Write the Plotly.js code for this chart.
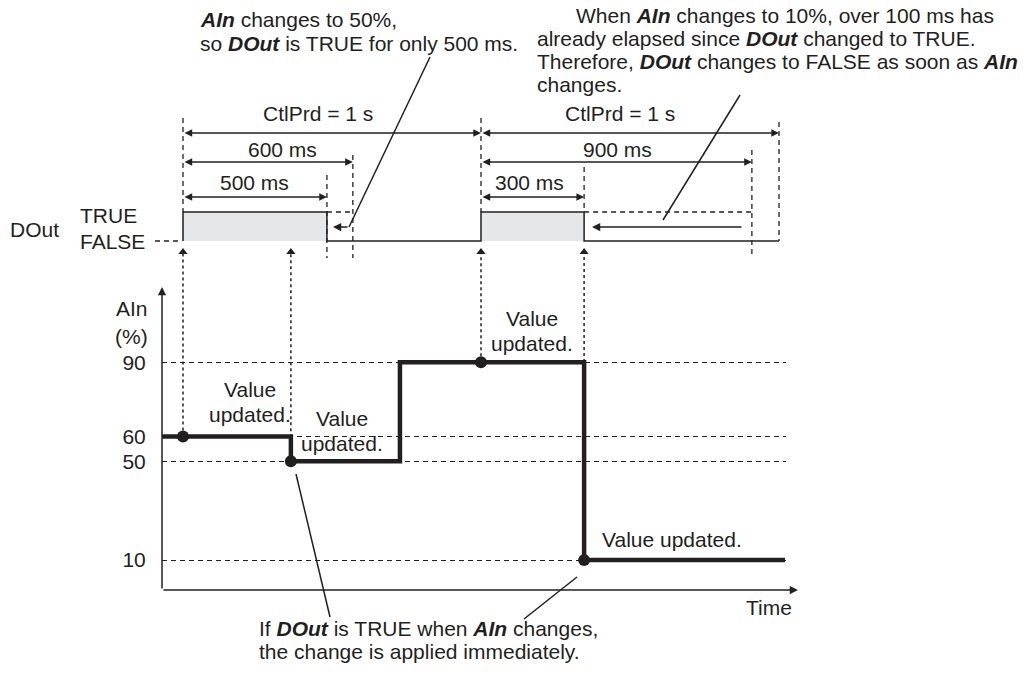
<!DOCTYPE html>
<html>
<head>
<meta charset="utf-8">
<script src="https://cdn.plot.ly/plotly-3.0.1.min.js"></script>
<style>
  html, body { margin: 0; padding: 0; background: #fff; }
  #chart { width: 1030px; height: 679px; }
</style>
</head>
<body>
<div id="chart"></div>
<script>
// DOut / AIn timing chart (schematic, drawn positions are not to scale)

const W = 1030, H = 679;
const INK = '#231f20';
const FILL = '#e6e7e8';
const FONT = '"Liberation Sans", Arial, sans-serif';
const FS = 21;

// DOut trace, times as drawn (ms), 0 = FALSE, 1 = TRUE
const dOutTime = [0, 0, 483, 483, 1000, 1000, 1346, 1346, 2000];
const dOutState = [0, 1, 1, 0, 0, 1, 1, 0, 0];
// where DOut would have stayed TRUE (dashed)
const holdTime = [483, 570, null, 1346, 1909];
const holdState = [1, 1, null, 1, 1];

// AIn step signal (%)
const aInTime = [-70, 362, 362, 728, 728, 1346, 1346, 2020];
const aInValue = [60, 60, 50, 50, 90, 90, 10, 10];
// moments the value is taken over ("Value updated.")
const updTime = [0, 362, 1000, 1346];
const updValue = [60, 50, 90, 10];

const aInTicks = [10, 50, 60, 90];

// pixel mapping of the axes
const X0 = 183, KX = 0.298;            // px = X0 + KX * t
const Y0 = 584.85, KY = 2.4733;        // px = Y0 - KY * value
const D0 = 241, KD = 29;               // px = D0 - KD * state
const tOf = px => (px - X0) / KX;
const vOf = px => (Y0 - px) / KY;
const sOf = px => (D0 - px) / KD;
const px = x => x / W;
const py = y => 1 - y / H;

// dotted arrows from each update point up to DOut
const arrowTop = vOf(252);
const upX = [], upY = [];
updTime.forEach((t, i) => { upX.push(t, t, null); upY.push(updValue[i], arrowTop, null); });

const traces = [
    {   // gray area while DOut is TRUE
        x: dOutTime, y: dOutState, yaxis: 'y2', type: 'scatter', mode: 'lines',
        fill: 'tozeroy', fillcolor: FILL, line: { width: 0 }, hoverinfo: 'skip'
    },
    {
        x: dOutTime, y: dOutState, yaxis: 'y2', type: 'scatter', mode: 'lines',
        line: { color: INK, width: 1.5 }
    },
    {
        x: holdTime, y: holdState, yaxis: 'y2', type: 'scatter', mode: 'lines',
        line: { color: INK, width: 1.3, dash: '5px,4px' }
    },
    {
        x: upX, y: upY, type: 'scatter', mode: 'lines',
        line: { color: INK, width: 1.5, dash: 'dot' }
    },
    {
        x: updTime, y: updTime.map(() => arrowTop), type: 'scatter', mode: 'markers',
        marker: { symbol: 'triangle-up', size: 8, color: INK }, cliponaxis: false
    },
    {
        x: aInTime, y: aInValue, type: 'scatter', mode: 'lines',
        line: { color: INK, width: 4.5 }
    },
    {
        x: updTime, y: updValue, type: 'scatter', mode: 'markers',
        marker: { size: 12, color: INK }, cliponaxis: false
    }
];

// text helper, one annotation per line
const annotations = [];
function label(lines, x, y, anchor = 'center', step = 23) {
    [].concat(lines).forEach((s, i) => {
        annotations.push({
            xref: 'paper', yref: 'paper', x: px(x), y: py(y + i * step),
            xanchor: anchor, yanchor: 'middle', text: s, showarrow: false,
            font: { family: FONT, size: FS, color: INK }
        });
    });
}

// dimension arrows (double headed)
const spans = [
    { from: 0, to: 1000, y: 133, text: 'CtlPrd = 1 s', tx: 318, ty: 114 },
    { from: 0, to: 570, y: 162, text: '600 ms', tx: 282, ty: 149 },
    { from: 0, to: 483, y: 197, text: '500 ms', tx: 254, ty: 183 },
    { from: 1000, to: 2000, y: 133, text: 'CtlPrd = 1 s', tx: 620, ty: 114 },
    { from: 1000, to: 1909, y: 162, text: '900 ms', tx: 617, ty: 149 },
    { from: 1000, to: 1346, y: 197, text: '300 ms', tx: 529, ty: 183 }
];
spans.forEach(s => {
    annotations.push({
        xref: 'x', yref: 'paper', x: s.to, y: py(s.y), axref: 'x', ax: s.from, ayref: 'pixel', ay: 0,
        text: '', showarrow: true, arrowside: 'end+start', arrowhead: 2, arrowsize: 1.1,
        arrowwidth: 1.4, arrowcolor: INK
    });
    label(s.text, s.tx, s.ty);
});

// plain arrows in pixel space: head (x, y), tail offset
function arrow(hx, hy, tx, ty, width = 1.5) {
    annotations.push({
        xref: 'paper', yref: 'paper', x: px(hx), y: py(hy), axref: 'pixel', ayref: 'pixel',
        ax: tx - hx, ay: ty - hy, text: '', showarrow: true, arrowhead: 2, arrowsize: 1.1,
        arrowwidth: width, arrowcolor: INK
    });
}
arrow(162, 287, 162, 590);     // AIn axis
arrow(798, 590, 162, 590);     // time axis
arrow(333, 227, 349, 227);     // DOut falls at 500 ms
arrow(592, 227, 743, 227);     // DOut falls at once

// labels
label('DOut', 8, 229, 'left');
label('TRUE', 78, 215, 'left');
label('FALSE', 78, 241, 'left');
label('AIn', 150, 309, 'right');
label('(%)', 150, 336, 'right');
label(['Value', 'updated.'], 250, 390, 'center', 24);
label(['Value', 'updated.'], 342, 418, 'center', 25);
label(['Value', 'updated.'], 532, 318, 'center', 25);
label('Value updated.', 600, 539, 'left');
label('Time', 769, 607);

label(['<b><i>AIn</i></b> changes to 50%,',
       'so <b><i>DOut</i></b> is TRUE for only 500 ms.'], 198, 19, 'left', 24);
label('When <b><i>AIn</i></b> changes to 10%, over 100 ms has', 574, 15, 'left');
label(['already elapsed since <b><i>DOut</i></b> changed to TRUE.',
       'Therefore, <b><i>DOut</i></b> changes to FALSE as soon as <b><i>AIn</i></b>',
       'changes.'], 535, 38, 'left');
label(['If <b><i>DOut</i></b> is TRUE when <b><i>AIn</i></b> changes,',
       'the change is applied immediately.'], 257, 628, 'left', 23);

// vertical dashed guides: time, top px, bottom px
const guides = [
    [0, 118, 212], [483, 175, 258], [570, 155, 258], [1000, 118, 212],
    [1346, 167, 212], [1909, 150, 257], [2000, 122, 241]
];
const shapes = guides.map(g => ({
    type: 'line', xref: 'x', yref: 'paper', x0: g[0], x1: g[0], y0: py(g[1]), y1: py(g[2]),
    line: { color: INK, width: 1.3, dash: '5px,4px' }
}));

// loose lines in pixel space
function seg(x0, y0, x1, y1, dash = 'solid') {
    shapes.push({
        type: 'line', xref: 'paper', yref: 'paper', x0: px(x0), y0: py(y0), x1: px(x1), y1: py(y1),
        line: { color: INK, width: 1.5, dash: dash }
    });
}
seg(155, 241, 182, 241, '5px,4px');   // FALSE lead-in
seg(430, 57, 349, 227);               // leader, top left note
seg(740, 95, 663, 220);               // leader, top right note
seg(296, 474, 330, 617);              // leader, bottom note
seg(577, 577, 524, 619);

const layout = {
    width: W, height: H,
    margin: { l: 0, r: 0, t: 0, b: 0 },
    paper_bgcolor: '#fff', plot_bgcolor: 'rgba(0,0,0,0)',
    showlegend: false,
    font: { family: FONT, size: FS, color: INK },
    xaxis: {
        domain: [px(162), px(786)], range: [tOf(162), tOf(786)],
        visible: false, fixedrange: true
    },
    yaxis: {
        domain: [0, 1], range: [vOf(H), vOf(0)],
        anchor: 'free', position: px(162),
        tickvals: aInTicks, ticks: 'outside', ticklen: 12, tickcolor: 'rgba(0,0,0,0)',
        tickfont: { family: FONT, size: FS, color: INK },
        showgrid: true, gridcolor: INK, gridwidth: 1.2, griddash: '5px,4px',
        showline: false, zeroline: false, fixedrange: true
    },
    yaxis2: {
        overlaying: 'y', range: [sOf(H), sOf(0)], visible: false, fixedrange: true
    },
    shapes: shapes,
    annotations: annotations
};

Plotly.newPlot('chart', traces, layout, { displayModeBar: false, staticPlot: true });
</script>
</body>
</html>
